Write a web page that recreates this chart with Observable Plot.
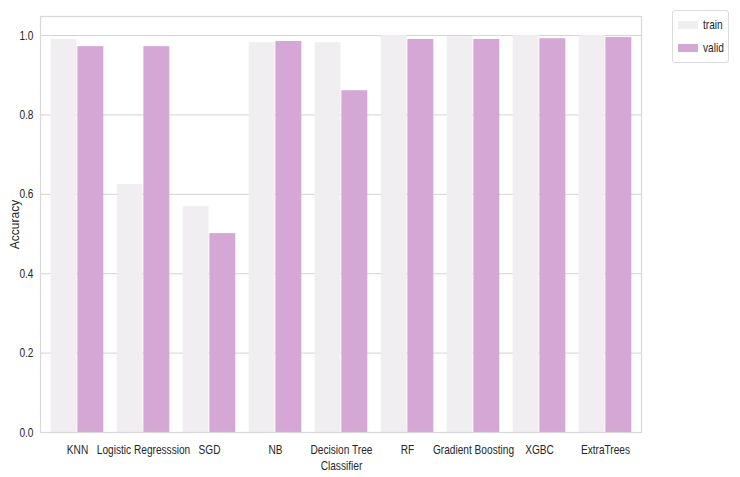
<!DOCTYPE html>
<html>
<head>
<meta charset="utf-8">
<script src="https://cdn.jsdelivr.net/npm/d3@7"></script>
<script src="https://cdn.jsdelivr.net/npm/@observablehq/plot@0.6"></script>
<style>
  html, body { margin: 0; padding: 0; background: #fff; }
  #wrap { position: relative; width: 740px; height: 477px; font-family: "Liberation Sans", Arial, sans-serif; }
  #legend { position: absolute; left: 672px; top: 10px; width: 57px; height: 53px; border: 1px solid #dcdcdc; border-radius: 3px; box-sizing: border-box; font-size: 13px; color: #262626; }
  .item { position: absolute; left: 5px; display: flex; align-items: center; }
  .sw { width: 20px; height: 8px; margin-right: 5px; }
  .lt { display: inline-block; transform: scaleX(0.78); transform-origin: left center; }
</style>
</head>
<body>
<div id="wrap"></div>
<script>
const models = ["KNN", "Logistic Regresssion", "SGD", "NB", "Decision Tree Classifier", "RF", "Gradient Boosting", "XGBC", "ExtraTrees"];
const trainAcc = [0.990, 0.625, 0.569, 0.982, 0.982, 1.000, 0.997, 1.000, 1.000];
const validAcc = [0.972, 0.972, 0.501, 0.985, 0.861, 0.990, 0.990, 0.992, 0.995];
const yTicks = [0.0, 0.2, 0.4, 0.6, 0.8, 1.0];
const seriesNames = ["train", "valid"];
const seriesColors = ["#f0eef0", "#d4a7d4"];
const tickText = {"Decision Tree Classifier": "Decision Tree\nClassifier"};

const W = 740, H = 477, mL = 40, mR = 99, mT = 16, mB = 45;
const bw = (W - mL - mR) / models.length;

const trainData = models.map((m, i) => ({model: m, value: trainAcc[i]}));
const validData = models.map((m, i) => ({model: m, value: validAcc[i]}));

const chart = Plot.plot({
  width: W, height: H,
  marginLeft: mL, marginRight: mR, marginTop: mT, marginBottom: mB,
  style: {fontFamily: "'Liberation Sans', Arial, sans-serif", fontSize: "13px", color: "#262626", background: "#fff"},
  x: {domain: models, padding: 0},
  y: {domain: [0, 1.048]},
  marks: [
    Plot.gridY(yTicks, {stroke: "#d3d3d3", strokeOpacity: 1, strokeWidth: 1}),
    Plot.barY(trainData, {x: "model", y: "value", fill: seriesColors[0], insetLeft: 0.1 * bw, insetRight: 0.5 * bw}),
    Plot.barY(validData, {x: "model", y: "value", fill: seriesColors[1], insetLeft: 0.5 * bw, insetRight: 0.1 * bw}),
    Plot.frame({stroke: "#d8d8d8", strokeWidth: 1.2}),
    Plot.axisX({className: "xt", tickSize: 0, tickPadding: 9, lineHeight: 1.3, label: null, tickFormat: d => tickText[d] || d}),
    Plot.axisY(yTicks, {className: "yt", tickSize: 0, tickPadding: 7, tickFormat: d3.format(".1f"), label: null}),
    Plot.axisY({ticks: [], tickSize: 0, label: "Accuracy", labelAnchor: "center", labelArrow: "none", labelOffset: 30, fontSize: 12})
  ]
});
document.getElementById("wrap").appendChild(chart);

// condense tick labels horizontally, as in the reference (scale about the anchor point)
chart.querySelectorAll("g.xt text, g.yt text").forEach(t => {
  const xa = t.getAttribute("x");
  const x = xa && !/em/.test(xa) ? parseFloat(xa) : 0;
  if (x !== 0) {
    t.setAttribute("x", 0);
    t.querySelectorAll("tspan").forEach(ts => { if (parseFloat(ts.getAttribute("x")) === x) ts.setAttribute("x", 0); });
  }
  const tr = t.getAttribute("transform") || "";
  t.setAttribute("transform", `${tr} translate(${x},0) scale(0.78,1)`);
});

const legend = document.createElement("div");
legend.id = "legend";
seriesNames.forEach((s, i) => {
  const it = document.createElement("div");
  it.className = "item";
  it.style.top = (i === 0 ? 6 : 29) + "px";
  const sw = document.createElement("span");
  sw.className = "sw";
  sw.style.background = seriesColors[i];
  const t = document.createElement("span");
  t.className = "lt";
  t.textContent = s;
  it.appendChild(sw); it.appendChild(t);
  legend.appendChild(it);
});
document.getElementById("wrap").appendChild(legend);
</script>
</body>
</html>
